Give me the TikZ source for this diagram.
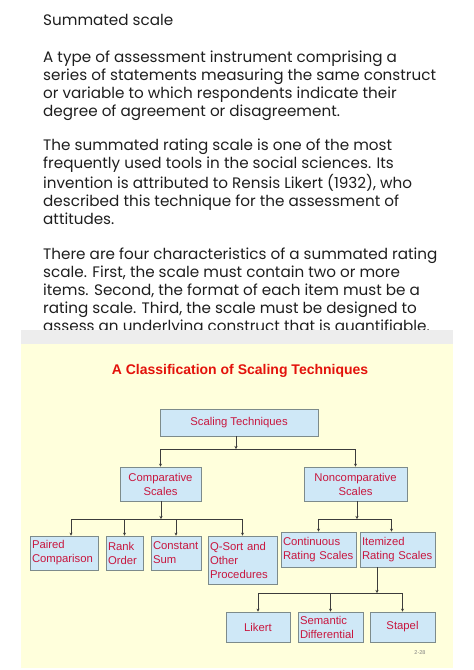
\documentclass[tikz,border=0pt]{standalone}
\usepackage{fontspec}
\setmainfont{Poppins}
\newfontfamily\panelfont{Liberation Sans}
\usetikzlibrary{arrows.meta}

\definecolor{bodytext}{HTML}{1E1E1E}
\definecolor{stripgray}{HTML}{EDEDED}
\definecolor{panelyellow}{HTML}{FFFFDC}
\definecolor{boxblue}{HTML}{CFE8F7}
\definecolor{boxline}{HTML}{7D8B8B}
\definecolor{boxtext}{HTML}{C8173F}
\definecolor{titlered}{HTML}{E3120B}
\definecolor{connline}{HTML}{3C3C3C}

\tikzset{
  para/.style={anchor=base west, align=left, inner sep=0pt, text=bodytext,
    font=\fontsize{15.2}{18}\selectfont},
  cbox/.style={draw=boxline, fill=boxblue, text=boxtext, line width=0.7pt,
    inner sep=0pt, align=center, font=\panelfont\fontsize{11.3}{14}\selectfont},
  lbox/.style={cbox, align=left, inner xsep=2pt, text width=#1},
  conn/.style={draw=connline, line width=0.7pt, -{Stealth[length=3pt,width=3pt]}}
}

\begin{document}
\begin{tikzpicture}[x=1pt,y=-1pt]
\useasboundingbox (0,0) rectangle (474,670);

% text above the slide (base = baseline of the last line)
\node[para] (head) at (43,25) {Summated scale};
\node[para] (p1) at (43,116) {A type of assessment instrument comprising a\\
series of statements measuring the same construct\\
or variable to which respondents indicate their\\
degree of agreement or disagreement.};
\node[para] (p2) at (43,224) {The summated rating scale is one of the most\\
frequently used tools in the social sciences. Its\\
invention is attributed to Rensis Likert (1932), who\\
described this technique for the assessment of\\
attitudes.};
\node[para] (p3) at (43,331.5) {There are four characteristics of a summated rating\\
scale. First, the scale must contain two or more\\
items. Second, the format of each item must be a\\
rating scale. Third, the scale must be designed to\\
assess an underlying construct that is quantifiable.};

% slide
\fill[white] (0,330) rectangle (474,670);
\fill[stripgray] (21,330) rectangle (453,344);
\fill[panelyellow] (21,344) rectangle (453,668);
\node[text=titlered, font=\panelfont\bfseries\fontsize{14}{16}\selectfont] (title) at (240,370.5) {A Classification of Scaling Techniques};

% boxes
\node[cbox, minimum width=158pt, minimum height=27pt] (st) at (239,422.5) {Scaling Techniques};
\node[cbox, minimum width=81pt, minimum height=34pt] (cs) at (160.5,484) {Comparative\\Scales};
\node[cbox, minimum width=103pt, minimum height=34pt] (ns) at (355.5,484) {Noncomparative\\Scales};

\node[lbox=64pt, minimum height=34pt] (pc) at (64,553) {Paired\\Comparison};
\node[lbox=33pt, minimum height=34pt] (ro) at (124.5,553) {Rank\\Order};
\node[lbox=46pt, minimum height=34pt] (csum) at (176,553) {Constant\\Sum};
\node[lbox=65pt, minimum height=48pt] (qs) at (242.5,560) {Q-Sort and\\Other\\Procedures};
\node[lbox=71pt, minimum height=35pt] (crs) at (318.5,549.5) {Continuous\\Rating Scales};
\node[lbox=71pt, minimum height=35pt] (irs) at (397.5,549.5) {Itemized\\Rating Scales};

\node[cbox, minimum width=64pt, minimum height=30pt] (lk) at (258,627) {Likert};
\node[lbox=61pt, minimum height=30pt] (sd) at (330.5,627) {Semantic\\Differential};
\node[cbox, minimum width=65pt, minimum height=30pt] (sp) at (402.5,627) {Stapel};

\node[text=gray, font=\panelfont\fontsize{5.5}{6}\selectfont] (pg) at (420,653) {2-28};

% connectors
\coordinate (b1) at (236,449);
\coordinate (b2) at (161,519);
\coordinate (b3) at (357,519);
\coordinate (b4) at (377,593);

\draw[conn] (st.south -| b1) -- (b1);
\draw[conn] (b1) -| (cs.north);
\draw[conn] (b1) -| (ns.north);

\draw[conn] (cs.south -| b2) -- (b2);
\draw[conn] (b2) -| ([xshift=7]pc.north);
\draw[conn] (b2) -| (ro.north);
\draw[conn] (b2) -| (csum.north);
\draw[conn] (b2) -| (qs.north);

\draw[conn] (ns.south -| b3) -- (b3);
\draw[conn] (b3) -| (crs.north);
\draw[conn] (b3) -| ([xshift=-6]irs.north);

\draw[conn] (irs.south -| b4) -- (b4);
\draw[conn] (b4) -| (lk.north);
\draw[conn] (b4) -| (sd.north);
\draw[conn] (b4) -| (sp.north);
\end{tikzpicture}
\end{document}
